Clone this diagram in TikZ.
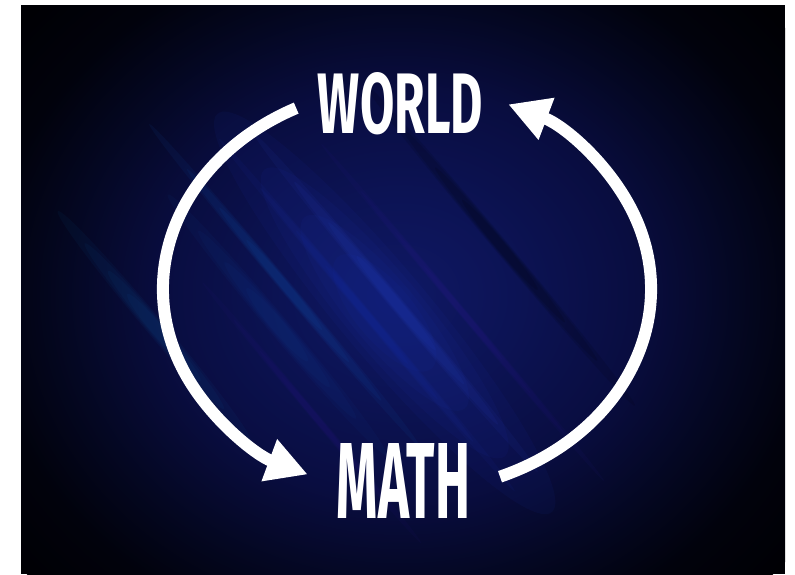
\documentclass[tikz,border=0pt]{standalone}
\usepackage{graphicx}
\usepackage{fontspec}
\newfontfamily\condfont{Fira Sans}
\usetikzlibrary{arrows.meta}
\definecolor{vgA}{RGB}{15,24,100}
\definecolor{vgB}{RGB}{12,19,84}
\definecolor{vgC}{RGB}{9,13,64}
\definecolor{vgD}{RGB}{4,7,34}
\definecolor{vgE}{RGB}{1,2,12}
\definecolor{vgF}{RGB}{0,0,4}
\definecolor{stBlue}{RGB}{30,55,185}
\definecolor{stLight}{RGB}{45,75,215}
\definecolor{stCyan}{RGB}{20,95,190}
\definecolor{stTeal}{RGB}{10,110,180}
\definecolor{stPurple}{RGB}{55,30,165}
\pgfdeclareradialshading{vignette}{\pgfpoint{0bp}{0bp}}{color(0bp)=(vgA); color(6bp)=(vgB); color(12bp)=(vgC); color(17bp)=(vgD); color(21bp)=(vgE); color(25bp)=(vgF); color(50bp)=(vgF)}
\newcommand\mystreak[6]{%
  \foreach \k in {1,0.72,0.48,0.28}{%
    \fill[#5,opacity=#6] (#1,#2) ellipse [x radius={\k*#3/2}, y radius={(0.5+0.5*\k)*#4/2}];}}
\tikzset{
  loop arrow/.style={draw=white, line width=12pt, -{Triangle[length=41pt,width=42pt]}},
  label text/.style={text=white, inner sep=0pt}
}
\begin{document}
\begin{tikzpicture}[x=1pt,y=-1pt]
\useasboundingbox (0,0) rectangle (795,574);
\fill[white] (0,0) rectangle (795,574);
\begin{scope}
  \clip (21,5) rectangle (785,574);
  \fill[vgF] (21,5) rectangle (785,574);
  \shade[shading=vignette] (400,295) ellipse [x radius=495, y radius=425];
  \begin{scope}[shift={(400,300)}, rotate=-50]
    \mystreak{0}{20}{520}{90}{stBlue}{0.07}
    \mystreak{0}{5}{440}{14}{stLight}{0.07}
    \mystreak{-10}{35}{460}{10}{stBlue}{0.07}
    \mystreak{-86}{79}{420}{12}{stCyan}{0.08}
    \mystreak{-60}{110}{340}{20}{stCyan}{0.05}
    \mystreak{-138}{205}{300}{18}{stTeal}{0.06}
    \mystreak{22}{-112}{420}{14}{black}{0.10}
    \mystreak{50}{-40}{440}{8}{stPurple}{0.06}
    \mystreak{30}{140}{340}{8}{stPurple}{0.05}
  \end{scope}
\end{scope}
% labels
\node[label text] (world) at (400.5,103.5) {\resizebox{165pt}{61pt}{\condfont\bfseries WORLD}};
\node[label text] (math) at (403.5,480.5) {\resizebox{133pt}{75pt}{\condfont\bfseries MATH}};
% connector end points on the ellipse
\coordinate (ws) at (296.2,108.1);
\coordinate (ms) at (500.0,476.7);
% WORLD -> MATH (left side)
\draw[loop arrow] (ws) arc[start angle=-117, end angle=-246, x radius=244, y radius=203];
% MATH -> WORLD (right side)
\draw[loop arrow] (ms) arc[start angle=67.6, end angle=-65.5, x radius=244, y radius=203];
\end{tikzpicture}
\end{document}
